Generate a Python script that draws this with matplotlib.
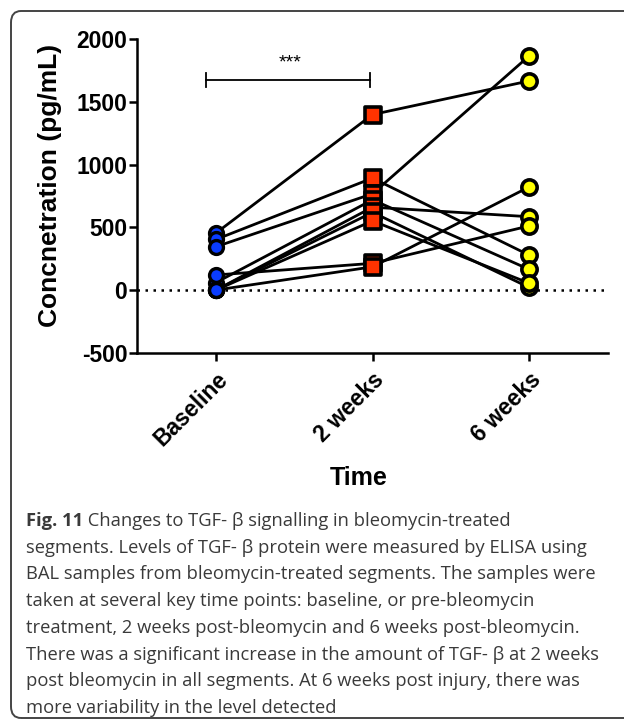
import matplotlib.pyplot as plt
from matplotlib.markers import MarkerStyle
from matplotlib.patches import FancyBboxPatch

# ---------------- data ----------------
timepoints = ["Baseline", "2 weeks", "6 weeks"]
baseline = [455, 404, 346, 60, 0, 0, 0, 120, 0]
week2 = [1400, 893, 768, 720, 661, 620, 552, 213, 185]
week6 = [1668, 279, 1867, 165, 585, 21, 55, 511, 822]
yticks = [-500, 0, 500, 1000, 1500, 2000]

caption_first = " Changes to TGF- \u03b2 signalling in bleomycin-treated"
caption_lines = [
    "segments. Levels of TGF- \u03b2 protein were measured by ELISA using",
    "BAL samples from bleomycin-treated segments. The samples were",
    "taken at several key time points: baseline, or pre-bleomycin",
    "treatment, 2 weeks post-bleomycin and 6 weeks post-bleomycin.",
    "There was a significant increase in the amount of TGF- \u03b2 at 2 weeks",
    "post bleomycin in all segments. At 6 weeks post injury, there was",
    "more variability in the level detected",
]

plt.rcParams['font.family'] = ['Liberation Sans', 'DejaVu Sans']

fig = plt.figure(figsize=(6.24, 7.22), dpi=100)
ax = fig.add_axes([0.2196, 0.5115, 0.7548, 0.434])

x = range(len(timepoints))
for b, w2, w6 in zip(baseline, week2, week6):
    ax.plot(x, [b, w2, w6], color='black', lw=2.0, zorder=2)

circ = MarkerStyle('o')
sq = MarkerStyle('s', joinstyle='round')
ax.plot([0] * len(baseline), baseline, ls='none', marker=circ, ms=10,
        mfc='#0a3cff', mec='black', mew=2.4, zorder=3)
ax.plot([1] * len(week2), week2, ls='none', marker=sq, ms=11,
        mfc='#ff3300', mec='black', mew=2.6, zorder=3)
ax.plot([2] * len(week6), week6, ls='none', marker=circ, ms=11,
        mfc='#ffff00', mec='black', mew=2.6, zorder=3)

# zero reference line
ax.axhline(0, color='black', ls=(0, (1, 2.2)), lw=1.8, zorder=1)

# significance bracket
ax.plot([-0.064, 0.984], [1672, 1672], color='black', lw=1.3)
ax.plot([-0.064, -0.064], [1616, 1728], color='black', lw=1.3)
ax.plot([0.984, 0.984], [1616, 1728], color='black', lw=1.3)
ax.text(0.47, 1745, "***", ha='center', va='bottom', fontsize=14)

ax.set_xlim(-0.505, 2.505)
ax.set_ylim(-500, 2000)
ax.set_yticks(yticks)
ax.set_yticklabels([str(v) for v in yticks], fontweight='bold', fontsize=16.5)
ax.set_xticks(list(x))
ax.set_xticklabels(timepoints, rotation=45, ha='right', va='top',
                   rotation_mode='anchor', fontweight='bold', fontsize=16.5)
ax.tick_params(axis='both', length=6, width=1.8, pad=1)
ax.tick_params(axis='x', pad=5)
for s in ['top', 'right']:
    ax.spines[s].set_visible(False)
for s in ['left', 'bottom']:
    ax.spines[s].set_linewidth(1.8)

fig.text(50 / 624, 1 - 185 / 722, "Concnetration (pg/mL)", rotation=90,
         ha='center', va='center', fontweight='bold', fontsize=19)
fig.text(359 / 624, 1 - 478 / 722, "Time", ha='center', va='center',
         fontweight='bold', fontsize=18)

# caption
cap_font = ['Open Sans', 'DejaVu Sans']
cap_color = '#3a3a3a'
cap_size = 13.2
y0 = 1 - 521 / 722
dy = 26.7 / 722
fig_lbl = fig.text(26 / 624, y0, "Fig. 11", ha='left', va='center',
                   fontsize=cap_size, fontweight='bold', family=cap_font,
                   color=cap_color)
fig.text(0, 0, "")
ax.annotate(caption_first, xy=(1, 0.5), xycoords=fig_lbl, ha='left',
            va='center', fontsize=cap_size, family=cap_font, color=cap_color,
            annotation_clip=False)
for i, line in enumerate(caption_lines):
    fig.text(26 / 624, y0 - (i + 1) * dy, line, ha='left', va='center',
             fontsize=cap_size, family=cap_font, color=cap_color)

# rounded frame around the figure
frame = FancyBboxPatch((11 / 624, 1 - 718 / 722), 1.2, (718 - 11) / 722,
                       boxstyle="round,pad=0,rounding_size=0.016",
                       transform=fig.transFigure, fill=False,
                       edgecolor='#444444', lw=1.4)
fig.patches.append(frame)

fig.savefig('out.png', dpi=100)
